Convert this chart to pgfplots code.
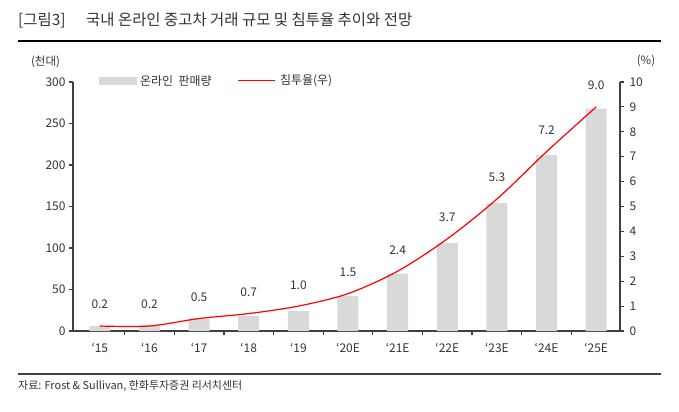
\documentclass[border=0pt]{standalone}
\usepackage{fontspec}
\setmainfont{Noto Sans CJK KR}
\usepackage{pgfplots}
\pgfplotsset{compat=1.18}
\definecolor{txt}{HTML}{333333}
\definecolor{axc}{HTML}{404040}
\definecolor{barc}{HTML}{D9D9D9}
\definecolor{lred}{HTML}{FF0000}
\begin{document}
\begin{tikzpicture}[x=1bp,y=1bp]
\useasboundingbox (0,0) rectangle (679,411);
% header and footer
\node[anchor=west, inner sep=0, text=txt, font=\fontsize{15.5}{17}\selectfont] at (18,391) {[그림3]};
\node[anchor=west, inner sep=0, text=txt, font=\fontsize{15.5}{17}\selectfont] at (86,391) {국내 온라인 중고차 거래 규모 및 침투율 추이와 전망};
\draw[black, line width=2.5bp] (18,370) -- (661,370);
\draw[axc, line width=2bp] (18,37) -- (661,37);
\node[anchor=west, inner sep=0, text=txt, font=\fontsize{11}{13}\selectfont] at (18,25) {자료: Frost \& Sullivan, 한화투자증권 리서치센터};
\node[text=txt, inner sep=0, font=\fontsize{11.5}{13}\selectfont] at (45.5,349) {(천대)};
\node[text=txt, inner sep=0, font=\fontsize{11.5}{13}\selectfont] at (646,350) {(\%)};
% legend
\fill[barc] (99,326) rectangle (137,334);
\node[anchor=west, inner sep=0, text=txt, font=\fontsize{12}{14}\selectfont] at (140,330) {온라인\ \ 판매량};
\draw[color=lred, line width=1.3bp] (238,330.5) -- (275,330.5);
\node[anchor=west, inner sep=0, text=txt, font=\fontsize{12}{14}\selectfont] at (280,330) {침투율(우)};

\begin{axis}[
  at={(73bp,80bp)}, anchor=south west, scale only axis,
  width=547bp, height=249bp,
  xmin=-0.54, xmax=10.48, ymin=0, ymax=300,
  axis y line*=left, axis x line*=bottom,
  axis line style={-, draw=axc, line width=1.3bp},
  xtick={0.5,1.5,...,9.5}, xticklabels={},
  ytick={0,50,...,300},
  tick align=outside, major tick length=4bp,
  tick style={draw=axc, line width=1.2bp},
  yticklabel style={text=txt, font=\fontsize{12}{14}\selectfont, /pgf/number format/assume math mode=true},
  clip=false,
]
\addplot[ybar, bar width=21bp, fill=barc, draw=none] coordinates {
(0,6) (1,7) (2,15) (3,18) (4,24) (5,42) (6,69) (7,106) (8,154) (9,212) (10,268)};
\end{axis}

\begin{axis}[
  at={(73bp,80bp)}, anchor=south west, scale only axis,
  width=547bp, height=249bp,
  xmin=-0.54, xmax=10.48, ymin=0, ymax=10,
  axis y line*=right, axis x line*=bottom,
  x axis line style={draw=none},
  y axis line style={-, draw=axc, line width=1.3bp},
  xtick={0,...,10},
  xticklabels={`15,`16,`17,`18,`19,`20E,`21E,`22E,`23E,`24E,`25E},
  xtick style={draw=none},
  xticklabel style={text=txt, font=\fontsize{12}{14}\selectfont, yshift=-5bp},
  ytick={0,...,10},
  tick align=outside, major tick length=4bp,
  ytick style={draw=axc, line width=1.2bp},
  yticklabel style={text=txt, font=\fontsize{12}{14}\selectfont, /pgf/number format/assume math mode=true, xshift=2bp},
  clip=false,
]
\addplot[draw=lred, line width=1.2bp, smooth, mark=none,
  nodes near coords,
  every node near coord/.append style={anchor=south, yshift=13bp, text=txt, font=\fontsize{12}{14}\selectfont,
    /pgf/number format/.cd, fixed, fixed zerofill, precision=1, assume math mode=true}]
  coordinates {
(0,0.2) (1,0.2) (2,0.5) (3,0.7) (4,1.0) (5,1.5) (6,2.4) (7,3.7) (8,5.3) (9,7.2) (10,9.0)};
\end{axis}
\end{tikzpicture}
\end{document}
